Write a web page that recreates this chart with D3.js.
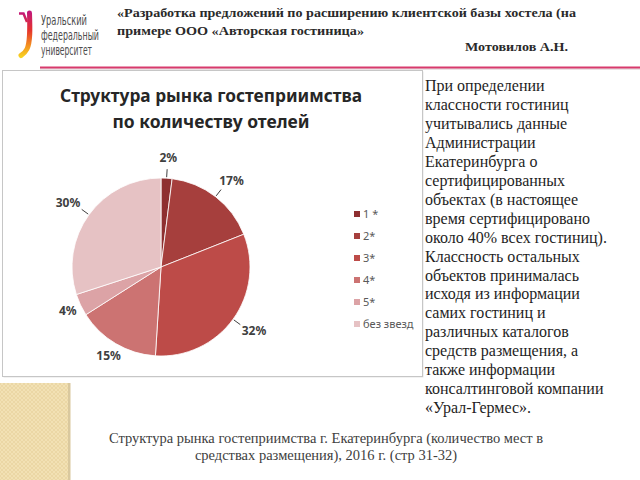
<!DOCTYPE html>
<html>
<head>
<meta charset="utf-8">
<script src="https://cdn.jsdelivr.net/npm/d3@7"></script>
<style>
  body { margin: 0; background: #fff; }
  svg { display: block; }
</style>
</head>
<body>
<div id="slide"></div>
<script>
// data
var categories = ["1 *", "2*", "3*", "4*", "5*", "без звезд"];
var shares = [2, 17, 32, 15, 4, 30];
var sliceColors = ["#8e2f30", "#a63f3d", "#bd4b48", "#cc7372", "#dca3a6", "#e6c2c4"];
// labels that sit right at the edge, without a leader line
var closeLabels = ["4*", "5*"];

var chartTitle = ["Структура рынка гостеприимства", "по количеству отелей"];
var headerTitle = ["«Разработка предложений по расширению клиентской базы хостела  (на",
                   "примере ООО «Авторская гостиница»"];
var author = "Мотовилов А.Н.";
var logoLines = ["Уральский", "федеральный", "университет"];
var noteLines = ["При определении", "классности гостиниц", "учитывались данные",
    "Администрации", "Екатеринбурга о", "сертифицированных", "объектах (в настоящее",
    "время сертифицировано", "около 40% всех гостиниц).", "Классность остальных",
    "объектов принималась", "исходя из информации", "самих гостиниц и",
    "различных каталогов", "средств размещения, а", "также информации",
    "консалтинговой компании", "«Урал-Гермес»."];
var captionLines = ["Структура рынка гостеприимства г. Екатеринбурга (количество мест в",
                    "средствах размещения), 2016 г. (стр 31-32)"];

var W = 640, H = 480;
var svg = d3.select("#slide").append("svg")
    .attr("width", W)
    .attr("height", H);

var defs = svg.append("defs");

// logo gradient
var grad = defs.append("linearGradient")
    .attr("id", "logoGrad")
    .attr("gradientUnits", "userSpaceOnUse")
    .attr("x1", 0).attr("y1", 12).attr("x2", 0).attr("y2", 57);
grad.append("stop").attr("offset", "0%").attr("stop-color", "#c2187a");
grad.append("stop").attr("offset", "40%").attr("stop-color", "#e5322d");
grad.append("stop").attr("offset", "75%").attr("stop-color", "#f39220");
grad.append("stop").attr("offset", "100%").attr("stop-color", "#f7d321");

// beige hatch pattern for the corner block
var pat = defs.append("pattern")
    .attr("id", "hatch")
    .attr("patternUnits", "userSpaceOnUse")
    .attr("width", 4).attr("height", 4);
pat.append("rect").attr("width", 4).attr("height", 4).attr("fill", "#f2e1b4");
pat.append("path").attr("d", "M0,0 L4,4 M4,0 L0,4")
    .attr("stroke", "#e6d09a").attr("stroke-width", 0.6);

// ---- header ----
var logo = svg.append("g");
logo.append("path")
    .attr("d", "M19,13.5 L23.5,13.5 L27,22")
    .attr("fill", "none")
    .attr("stroke", "url(#logoGrad)")
    .attr("stroke-width", 2.5);
logo.append("path")
    .attr("d", "M29.5,13 C30,28 30.5,42 27,49 C25.5,52 23.5,54 21,55.5")
    .attr("fill", "none")
    .attr("stroke", "url(#logoGrad)")
    .attr("stroke-width", 5)
    .attr("stroke-linecap", "round");

var logoW = [46, 58, 51];
logo.selectAll("text.logo")
    .data(logoLines)
    .enter().append("text")
    .attr("class", "logo")
    .attr("x", 41)
    .attr("y", function(d, i) { return 25 + i * 14.8; })
    .attr("textLength", function(d, i) { return logoW[i]; })
    .attr("lengthAdjust", "spacingAndGlyphs")
    .style("font-family", "'Liberation Sans Narrow', 'DejaVu Sans Condensed', 'Liberation Sans', sans-serif")
    .style("font-size", "13.5px")
    .style("fill", "#4d4d4d")
    .text(function(d) { return d; });

var headW = [459, 247];
svg.selectAll("text.head")
    .data(headerTitle)
    .enter().append("text")
    .attr("class", "head")
    .attr("x", 117)
    .attr("y", function(d, i) { return 17 + i * 17.5; })
    .attr("textLength", function(d, i) { return headW[i]; })
    .attr("lengthAdjust", "spacingAndGlyphs")
    .style("font-family", "'Liberation Serif', serif")
    .style("font-weight", "bold")
    .style("font-size", "13px")
    .style("fill", "#2a2a2a")
    .text(function(d) { return d; });

svg.append("text")
    .attr("x", 465)
    .attr("y", 51)
    .attr("textLength", 103)
    .attr("lengthAdjust", "spacingAndGlyphs")
    .style("font-family", "'Liberation Serif', serif")
    .style("font-weight", "bold")
    .style("font-size", "13px")
    .style("fill", "#2a2a2a")
    .text(author);

// pink rule
svg.append("line")
    .attr("x1", 40).attr("x2", W)
    .attr("y1", 69).attr("y2", 69)
    .attr("stroke", "#e9e2e4").attr("stroke-width", 2);
svg.append("line")
    .attr("x1", 40).attr("x2", W)
    .attr("y1", 67.5).attr("y2", 67.5)
    .attr("stroke", "#d83a6c").attr("stroke-width", 2);

// ---- chart frame ----
svg.append("rect")
    .attr("x", 3.5).attr("y", 71.5)
    .attr("width", 420).attr("height", 306)
    .attr("fill", "#e6e6e6");
svg.append("rect")
    .attr("x", 2.5).attr("y", 70.5)
    .attr("width", 420).attr("height", 306)
    .attr("fill", "#fff")
    .attr("stroke", "#c6c6c6");

var titleW = [302, 197];
svg.selectAll("text.ctitle")
    .data(chartTitle)
    .enter().append("text")
    .attr("class", "ctitle")
    .attr("x", 211)
    .attr("y", function(d, i) { return 102 + i * 26; })
    .attr("text-anchor", "middle")
    .attr("textLength", function(d, i) { return titleW[i]; })
    .attr("lengthAdjust", "spacingAndGlyphs")
    .style("font-family", "'Noto Sans', 'Open Sans', sans-serif")
    .style("font-weight", "bold")
    .style("font-size", "18px")
    .style("fill", "#262626")
    .text(function(d) { return d; });

// ---- pie ----
var cx = 161, cy = 267, r = 89;
var color = d3.scaleOrdinal().domain(categories).range(sliceColors);

var pie = d3.pie()
    .sort(null)
    .value(function(d) { return d.value; });

var data = categories.map(function(c, i) { return {cat: c, value: shares[i]}; });
var arcs = pie(data);

var arc = d3.arc().innerRadius(0).outerRadius(r);
var farArc = d3.arc().innerRadius(r + 20).outerRadius(r + 20);
var nearArc = d3.arc().innerRadius(r + 14).outerRadius(r + 14);
var lineIn = d3.arc().innerRadius(r + 1).outerRadius(r + 1);
var lineOut = d3.arc().innerRadius(r + 9).outerRadius(r + 9);

function isClose(d) { return closeLabels.indexOf(d.data.cat) >= 0; }

var g = svg.append("g")
    .attr("transform", "translate(" + cx + "," + cy + ")");

g.selectAll("path.slice")
    .data(arcs)
    .enter().append("path")
    .attr("class", "slice")
    .attr("d", arc)
    .attr("fill", function(d) { return color(d.data.cat); })
    .attr("stroke", "#fff")
    .attr("stroke-width", 0.8);

// leader lines
g.selectAll("polyline.lead")
    .data(arcs.filter(function(d) { return !isClose(d); }))
    .enter().append("polyline")
    .attr("class", "lead")
    .attr("points", function(d) {
        return [lineIn.centroid(d), lineOut.centroid(d)].join(" ");
    })
    .attr("fill", "none")
    .attr("stroke", "#404040")
    .attr("stroke-width", 1);

g.selectAll("text.lbl")
    .data(arcs)
    .enter().append("text")
    .attr("class", "lbl")
    .attr("transform", function(d) {
        var p = isClose(d) ? nearArc.centroid(d) : farArc.centroid(d);
        var mid = (d.startAngle + d.endAngle) / 2;
        var dx = isClose(d) ? 0 : Math.sin(mid) * 6;
        return "translate(" + (p[0] + dx) + "," + p[1] + ")";
    })
    .attr("text-anchor", "middle")
    .attr("dy", "0.35em")
    .style("font-family", "'Noto Sans', 'Open Sans', sans-serif")
    .style("font-weight", "bold")
    .style("font-size", "12px")
    .style("fill", "#404040")
    .text(function(d) { return d.data.value + "%"; });

// legend
var legY = d3.scalePoint().domain(categories).range([214, 324]);
var leg = svg.append("g");
leg.selectAll("rect")
    .data(categories)
    .enter().append("rect")
    .attr("x", 354)
    .attr("y", function(d) { return legY(d) - 3; })
    .attr("width", 6).attr("height", 6)
    .attr("fill", function(d) { return color(d); });
leg.selectAll("text")
    .data(categories)
    .enter().append("text")
    .attr("x", 363)
    .attr("y", function(d) { return legY(d); })
    .attr("dy", "0.35em")
    .style("font-family", "'Noto Sans', 'Open Sans', sans-serif")
    .style("font-size", "11px")
    .style("fill", "#595959")
    .text(function(d) { return d; });

// ---- right note ----
svg.selectAll("text.note")
    .data(noteLines)
    .enter().append("text")
    .attr("class", "note")
    .attr("x", 425)
    .attr("y", function(d, i) { return 91 + i * 18.95; })
    .style("font-family", "'Liberation Serif', serif")
    .style("font-size", "16px")
    .style("fill", "#1e1e1e")
    .text(function(d) { return d; });

// ---- corner block ----
svg.append("rect")
    .attr("x", 0).attr("y", 383)
    .attr("width", 70).attr("height", H - 383)
    .attr("fill", "url(#hatch)");
svg.append("rect")
    .attr("x", 68).attr("y", 383)
    .attr("width", 2.5).attr("height", H - 383)
    .attr("fill", "#d9c89e");

// ---- caption ----
svg.selectAll("text.cap")
    .data(captionLines)
    .enter().append("text")
    .attr("class", "cap")
    .attr("x", 326)
    .attr("y", function(d, i) { return 443 + i * 17; })
    .attr("text-anchor", "middle")
    .style("font-family", "'Liberation Serif', serif")
    .style("font-size", "14.5px")
    .style("fill", "#404040")
    .text(function(d) { return d; });
</script>
</body>
</html>
